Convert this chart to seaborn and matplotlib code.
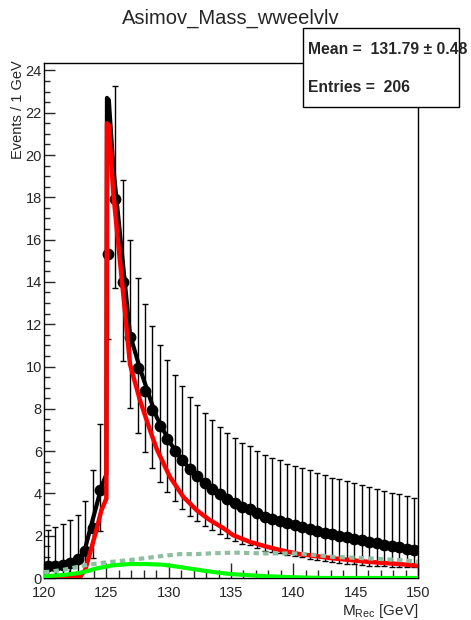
import numpy as np
import pandas as pd
import matplotlib
matplotlib.use("Agg")
import matplotlib.pyplot as plt
import seaborn as sns
from matplotlib.ticker import MultipleLocator
from matplotlib.patches import Rectangle

# ---------------- data ----------------
mass_bins = [round(120.3 + 0.6 * i, 1) for i in range(50)]
events = [0.55, 0.58, 0.63, 0.72, 0.88, 1.30, 2.35, 4.15, 15.3, 17.9,
          14.0, 11.4, 9.93, 8.86, 7.95, 7.18, 6.58, 6.02, 5.58, 5.15,
          4.83, 4.49, 4.23, 3.97, 3.74, 3.55, 3.37, 3.24, 3.05, 2.89,
          2.80, 2.71, 2.59, 2.50, 2.42, 2.33, 2.23, 2.15, 2.07, 2.00,
          1.94, 1.86, 1.78, 1.71, 1.64, 1.58, 1.52, 1.46, 1.39, 1.32]
err_top = [2.26, 2.40, 2.55, 2.74, 2.97, 3.63, 5.10, 7.27, 20.2, 23.25,
           18.8, 16.0, 14.2, 12.96, 11.9, 11.0, 10.3, 9.62, 9.10, 8.58,
           8.19, 7.78, 7.47, 7.14, 6.87, 6.62, 6.40, 6.23, 6.00, 5.80,
           5.69, 5.57, 5.41, 5.30, 5.20, 5.09, 4.96, 4.86, 4.75, 4.67,
           4.59, 4.48, 4.38, 4.29, 4.20, 4.12, 4.03, 3.95, 3.86, 3.76]
err_bottom = [0.05, 0.06, 0.07, 0.10, 0.14, 0.35, 0.95, 2.20, 11.3, 13.7,
              10.25, 8.05, 6.86, 5.96, 5.20, 4.56, 4.08, 3.62, 3.28, 2.95,
              2.71, 2.45, 2.26, 2.07, 1.90, 1.76, 1.63, 1.54, 1.41, 1.30,
              1.24, 1.17, 1.09, 1.03, 0.98, 0.92, 0.85, 0.80, 0.75, 0.71,
              0.68, 0.64, 0.60, 0.58, 0.56, 0.55, 0.54, 0.53, 0.52, 0.52]

curve_mass = [120.0, 122.1, 122.9, 123.3, 123.7, 124.2, 124.6, 125.0, 125.05,
              125.2, 125.56, 126.09, 126.36, 126.9, 127.7, 128.5, 129.04,
              130.1, 131.17, 132.25, 133.3, 134.4, 135.15, 136.5, 137.86,
              139.17, 140.5, 143.2, 145.9, 148.5, 150.0]
signal_curve = [0.0, 0.0, 0.06, 0.38, 1.2, 2.26, 3.2, 3.75, 21.5,
                21.4, 18.2, 15.0, 13.4, 10.1, 8.4, 7.0, 6.1,
                4.78, 3.84, 3.2, 2.74, 2.35, 2.03, 1.71, 1.48,
                1.29, 1.13, 0.93, 0.77, 0.66, 0.58]
total_curve = [0.55, 0.7, 0.95, 1.4, 2.3, 3.4, 4.3, 4.9, 22.7,
               22.6, 19.4, 16.3, 14.7, 11.5, 9.9, 8.5, 7.6,
               6.4, 5.5, 4.85, 4.3, 3.9, 3.6, 3.2, 2.9,
               2.65, 2.45, 2.08, 1.8, 1.5, 1.33]

bkg_mass = [120.0, 120.5, 121.5, 123.4, 124.7, 126.9, 129.5, 130.9, 132.2,
            133.6, 135.2, 137.9, 140.5, 143.2, 145.9, 148.5, 150.0]
bkg_dashed = [0.28, 0.30, 0.38, 0.61, 0.72, 0.85, 1.04, 1.13, 1.13,
              1.17, 1.20, 1.16, 1.16, 1.00, 0.93, 0.85, 0.77]

green_mass = [120.0, 121.5, 122.9, 124.2, 125.5, 126.9, 128.2, 129.5, 130.9,
              132.2, 133.6, 134.9, 137.6, 140.3, 142.4, 150.0]
green_curve = [0.08, 0.14, 0.24, 0.45, 0.60, 0.66, 0.66, 0.63, 0.52,
               0.40, 0.28, 0.19, 0.09, 0.03, 0.0, 0.0]

title = "Asimov_Mass_wweelvlv"
stat_lines = ["Mean =  131.79 \u00b1 0.48", "Entries =  206"]

# ---------------- style ----------------
sns.set_style("ticks")
plt.rcParams["font.family"] = ["Liberation Sans", "DejaVu Sans"]
plt.rcParams["mathtext.fontset"] = "custom"
plt.rcParams["mathtext.rm"] = "Liberation Sans"
plt.rcParams["mathtext.it"] = "Liberation Sans:italic"

W, H = 471, 620
fig = plt.figure(figsize=(W / 100, H / 100), dpi=100)
ax = fig.add_axes([44 / W, 1 - 578 / H, (418 - 44) / W, (578 - 63) / H])

data_df = pd.DataFrame({"mass": mass_bins, "events": events})
ev = np.array(events)
yerr = np.vstack([ev - np.array(err_bottom), np.array(err_top) - ev])
ax.errorbar(mass_bins, events, yerr=yerr, fmt="none", ecolor="black",
            elinewidth=1.0, capsize=2.2, capthick=1.0, zorder=2)

curve_df = pd.DataFrame({"mass": curve_mass, "signal": signal_curve,
                         "total": total_curve})
sns.lineplot(data=curve_df, x="mass", y="total", color="black", lw=3.0,
             estimator=None, sort=False, ax=ax, zorder=3)
sns.scatterplot(data=data_df, x="mass", y="events", color="black", s=72,
                edgecolor="black", linewidth=0, ax=ax, zorder=4)
sns.lineplot(data=curve_df, x="mass", y="signal", color="#ff0000", lw=3.2,
             estimator=None, sort=False, ax=ax, zorder=5)
bkg_df = pd.DataFrame({"mass": bkg_mass, "bkg": bkg_dashed})
sns.lineplot(data=bkg_df, x="mass", y="bkg", color="#8fbfa0", lw=3.0,
             estimator=None, sort=False, ax=ax, zorder=6,
             linestyle=(0, (1.3, 1.0)))
green_df = pd.DataFrame({"mass": green_mass, "g": green_curve})
sns.lineplot(data=green_df, x="mass", y="g", color="#00ff00", lw=3.0,
             estimator=None, sort=False, ax=ax, zorder=6)

ax.set_xlim(120, 150)
ax.set_ylim(0, 24.35)
ax.xaxis.set_major_locator(MultipleLocator(5))
ax.xaxis.set_minor_locator(MultipleLocator(1))
ax.yaxis.set_major_locator(MultipleLocator(2))
ax.yaxis.set_minor_locator(MultipleLocator(0.5))
ax.tick_params(axis="x", which="major", direction="in", length=10.8,
               width=1.0, pad=6, labelsize=10.5, top=False)
ax.tick_params(axis="x", which="minor", direction="in", length=5.5,
               width=1.0, top=False)
ax.tick_params(axis="y", which="major", direction="in", length=8,
               width=1.0, pad=1.5, labelsize=10.5, right=False)
ax.tick_params(axis="y", which="minor", direction="in", length=4,
               width=1.0, right=False)
for sp in ax.spines.values():
    sp.set_linewidth(1.0)
    sp.set_color("black")
    sp.set_visible(True)
ax.set_xlabel("")
ax.set_ylabel("")

fig.text(418 / W, 1 - 611 / H, r"M$_{\rm Rec}$ [GeV]", ha="right",
         va="center", fontsize=11)
fig.text(18 / W, 1 - 60 / H, "Events / 1 GeV", rotation=90, ha="center",
         va="top", fontsize=10.5)
fig.text(231 / W, 1 - 18 / H, title, ha="center", va="center", fontsize=14.5)

# stats box
box = Rectangle((303 / W, 1 - 107 / H), (459 - 303) / W, (107 - 28) / H,
                transform=fig.transFigure, facecolor="white",
                edgecolor="black", lw=1.0, zorder=10)
fig.add_artist(box)
fig.text(308 / W, 1 - 49 / H, stat_lines[0], ha="left", va="center",
         fontsize=11.3, fontweight="bold", zorder=11)
fig.text(308 / W, 1 - 88 / H, stat_lines[1], ha="left", va="center",
         fontsize=11.3, fontweight="bold", zorder=11)

fig.savefig("out.png", dpi=100)
